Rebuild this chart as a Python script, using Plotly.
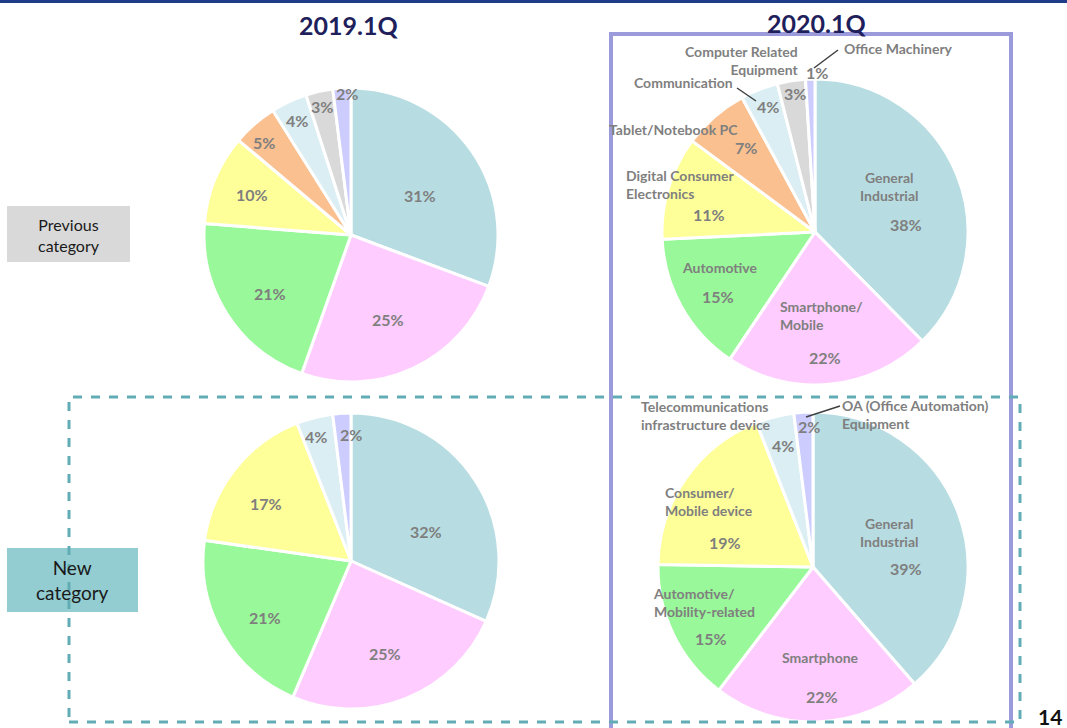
import plotly.graph_objects as go

W, H = 1067, 728

# ---------------- data ----------------
quarters = ["2019.1Q", "2020.1Q"]
row_labels = ["Previous<br>category", "New<br>category"]

cats_prev = ["General Industrial", "Smartphone/Mobile", "Automotive",
             "Digital Consumer Electronics", "Tablet/Notebook PC",
             "Communication", "Computer Related Equipment", "Office Machinery"]
prev_2019 = [31, 25, 21, 10, 5, 4, 3, 2]
prev_2020 = [38, 22, 15, 11, 7, 4, 3, 1]

cats_new = ["General Industrial", "Smartphone", "Automotive/Mobility-related",
            "Consumer/Mobile device", "Telecommunications infrastructure device",
            "OA (Office Automation) Equipment"]
new_2019 = [32, 25, 21, 17, 4, 2]
new_2020 = [39, 22, 15, 19, 4, 2]

page_number = "14"

# ---------------- styles ----------------
col_prev = ["#B7DDE2", "#FFCCFF", "#99F899", "#FFFF99", "#FAC090",
            "#DAEEF3", "#D9D9D9", "#CCCCFF"]
col_new = ["#B7DDE2", "#FFCCFF", "#99F899", "#FFFF99", "#DAEEF3", "#CCCCFF"]

FONT = "Lato"
GREY = "#7F7F7F"


def px(x):
    return x / W


def py(y):
    return 1 - y / H


# pie geometry in pixels (cx, cy, r)
pies = [
    (cats_prev, prev_2019, col_prev, (351, 235, 147)),
    (cats_prev, prev_2020, col_prev, (815, 232, 153)),
    (cats_new, new_2019, col_new, (351, 561, 148)),
    (cats_new, new_2020, col_new, (813, 567, 155)),
]

# percent label positions (pixels), same order as slices
pct_pos = [
    [(420, 196), (388, 319), (270, 293), (252, 195), (264, 143), (297, 121), (322, 106), (347, 93)],
    [(906, 224), (825, 357), (718, 296), (709, 214), (746, 148), (768, 106), (795, 93), (817, 73)],
    [(426, 531), (385, 653), (265, 617), (266, 503), (316, 436), (351, 434)],
    [(906, 568), (822, 696), (711, 638), (725, 542), (783, 445), (809, 426)],
]

# category name labels for 2020 pies: (text, x, y, xanchor, align)
name_labels = [
    ("Computer Related<br>Equipment", 801, 60, "right", "right"),
    ("Office Machinery", 842, 49, "left", "left"),
    ("Communication", 735, 82, "right", "left"),
    ("Tablet/Notebook PC", 674, 129, "center", "left"),
    ("Digital Consumer<br>Electronics", 624, 184, "left", "left"),
    ("General<br>Industrial", 889, 187, "center", "center"),
    ("Automotive", 719, 267, "center", "center"),
    ("Smartphone/<br>Mobile", 778, 315, "left", "left"),
    ("Telecommunications<br>infrastructure device", 639, 415, "left", "left"),
    ("OA (Office Automation)<br>Equipment", 840, 414, "left", "left"),
    ("Consumer/<br>Mobile device", 663, 501, "left", "left"),
    ("General<br>Industrial", 889, 532, "center", "center"),
    ("Automotive/<br>Mobility-related", 651, 602, "left", "left"),
    ("Smartphone", 820, 657, "center", "center"),
]

leader_lines = [
    (838, 50, 814, 68),
    (737, 88, 756, 101),
    (840, 406, 806, 417),
]

fig = go.Figure()

for labels, values, colors, (cx, cy, r) in pies:
    fig.add_trace(go.Pie(
        labels=labels, values=values, sort=False, direction="clockwise",
        rotation=0, textinfo="none", hoverinfo="label+value",
        marker=dict(colors=colors, line=dict(color="white", width=3)),
        domain=dict(x=[px(cx - r), px(cx + r)], y=[py(cy + r), py(cy - r)]),
        showlegend=False,
    ))

annotations = []
for (labels, values, colors, geom), positions in zip(pies, pct_pos):
    for v, (x, y) in zip(values, positions):
        annotations.append(dict(
            x=px(x), y=py(y), xref="paper", yref="paper", text=f"<b>{v}%</b>",
            showarrow=False, xanchor="center", yanchor="middle",
            font=dict(family=FONT, size=16, color=GREY)))

for text, x, y, xa, al in name_labels:
    annotations.append(dict(
        x=px(x), y=py(y), xref="paper", yref="paper", text=f"<b>{text}</b>",
        showarrow=False, xanchor=xa, yanchor="middle", align=al,
        font=dict(family=FONT, size=14, color=GREY)))

# titles
for q, x, y in zip(quarters, [348, 816], [25, 23]):
    annotations.append(dict(
        x=px(x), y=py(y), xref="paper", yref="paper", text=f"<b>{q}</b>",
        showarrow=False, xanchor="center", yanchor="middle",
        font=dict(family=FONT, size=25, color="#1F1F5C")))

# row labels
annotations.append(dict(x=px(69), y=py(235), xref="paper", yref="paper",
                        text=row_labels[0], showarrow=False, align="center",
                        xanchor="center", yanchor="middle",
                        font=dict(family=FONT, size=16, color="#1A1A1A")))
annotations.append(dict(x=px(72), y=py(580), xref="paper", yref="paper",
                        text=row_labels[1], showarrow=False, align="center",
                        xanchor="center", yanchor="middle",
                        font=dict(family=FONT, size=19, color="#1A1A1A")))

annotations.append(dict(x=px(1050), y=py(716), xref="paper", yref="paper",
                        text=f"<b>{page_number}</b>", showarrow=False,
                        xanchor="center", yanchor="middle",
                        font=dict(family=FONT, size=21, color="#111111")))

shapes = [
    dict(type="rect", xref="paper", yref="paper", x0=0, x1=1, y0=py(3), y1=py(0),
         fillcolor="#1F3C88", line=dict(width=0)),
    dict(type="rect", xref="paper", yref="paper", x0=px(7), x1=px(130),
         y0=py(262), y1=py(206), fillcolor="#D9D9D9", line=dict(width=0), layer="below"),
    dict(type="rect", xref="paper", yref="paper", x0=px(7), x1=px(138),
         y0=py(612), y1=py(548), fillcolor="#93CDD1", line=dict(width=0), layer="below"),
    dict(type="rect", xref="paper", yref="paper", x0=px(611), x1=px(1011),
         y0=py(732), y1=py(34), line=dict(color="#9B9BDB", width=4)),
    dict(type="rect", xref="paper", yref="paper", x0=px(69), x1=px(1020),
         y0=py(722), y1=py(397), line=dict(color="#62ADB5", width=3, dash="dash")),
]
for x0, y0, x1, y1 in leader_lines:
    shapes.append(dict(type="line", xref="paper", yref="paper",
                       x0=px(x0), y0=py(y0), x1=px(x1), y1=py(y1),
                       line=dict(color="#404040", width=1.5)))

fig.update_layout(
    width=W, height=H, margin=dict(l=0, r=0, t=0, b=0),
    paper_bgcolor="white", plot_bgcolor="white",
    annotations=annotations, shapes=shapes, showlegend=False,
)

fig.write_html(
    "out.html",
    config={"displayModeBar": False},
    post_script="document.body.style.margin='0';document.body.style.overflow='hidden';",
)
